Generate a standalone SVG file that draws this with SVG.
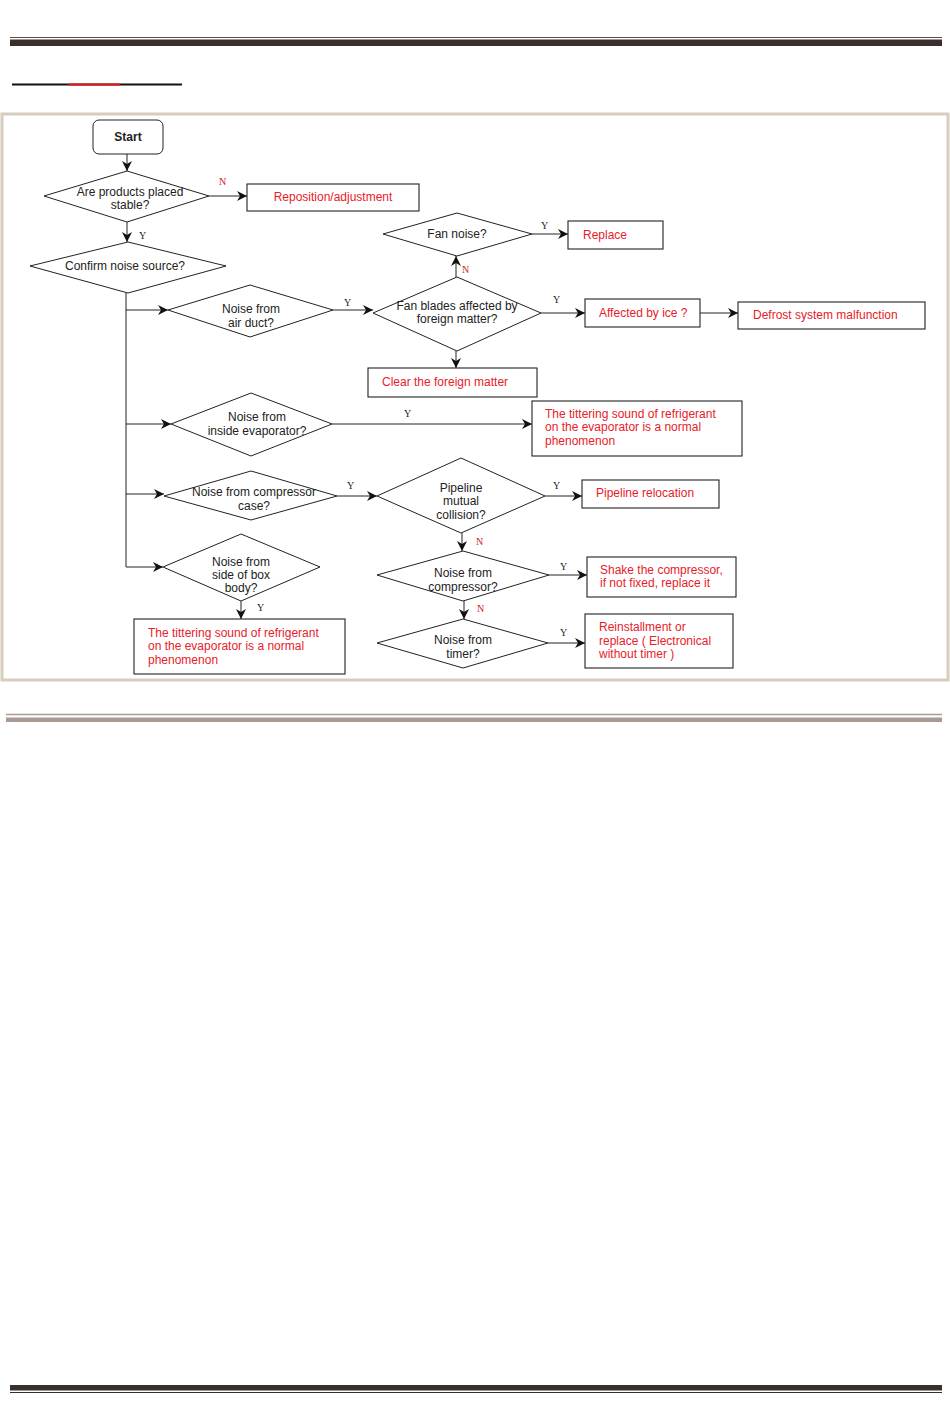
<svg xmlns="http://www.w3.org/2000/svg" width="950" height="1419" viewBox="0 0 950 1419">
<style>
.sh{fill:#fff;stroke:#222;stroke-width:1}
.bx{fill:#fff;stroke:#222;stroke-width:1.1}
.t{font-family:"Liberation Sans",Arial,sans-serif;font-size:12px;fill:#222}
.tc{text-anchor:middle}
.r{font-family:"Liberation Sans",Arial,sans-serif;font-size:12px;fill:#e8202a}
.yl{font-family:"Liberation Serif","Times New Roman",serif;font-size:10px;fill:#222}
.nl{font-family:"Liberation Serif","Times New Roman",serif;font-size:10px;fill:#d01818}
.c{fill:none;stroke:#222;stroke-width:1;marker-end:url(#ah)}
.cl{fill:none;stroke:#222;stroke-width:1}
</style>
<defs>
<marker id="ah" viewBox="0 0 10 10" refX="10" refY="5" markerWidth="10" markerHeight="10" markerUnits="userSpaceOnUse" orient="auto">
<path d="M0,0 L10,5 L0,10 L3,5 Z" fill="#111"/>
</marker>
</defs>
<rect width="950" height="1419" fill="#fff"/>
<!-- page decorations -->
<g id="page">
<line x1="10" y1="37.5" x2="942" y2="37.5" stroke="#5a4f48" stroke-width="1"/>
<rect x="10" y="39.5" width="932" height="6.5" fill="#3a302b"/>
<line x1="12" y1="84.5" x2="182" y2="84.5" stroke="#111" stroke-width="2"/>
<line x1="68" y1="84.5" x2="120" y2="84.5" stroke="#e01818" stroke-width="2"/>
<rect x="2" y="114" width="946" height="566" fill="none" stroke="#d6cdbd" stroke-width="3"/>
<line x1="6" y1="714.5" x2="942" y2="714.5" stroke="#a89a92" stroke-width="1.5"/>
<rect x="6" y="717.5" width="936" height="4.5" fill="#a89a92"/>
<rect x="10" y="1385" width="932" height="5.5" fill="#3a302b"/>
<line x1="10" y1="1392.5" x2="942" y2="1392.5" stroke="#3a302b" stroke-width="1"/>
</g>
<!-- connectors -->
<g id="connectors">
<path class="c" d="M127,154 V171"/>
<path class="c" d="M209,196 H247"/>
<path class="c" d="M127,222 V242"/>
<path class="cl" d="M126,293 V567"/>
<path class="c" d="M126,310 H168"/>
<path class="c" d="M126,424 H171"/>
<path class="c" d="M126,494 H164"/>
<path class="c" d="M126,567 H163"/>
<path class="c" d="M333,310 H373"/>
<path class="c" d="M456,277 V256"/>
<path class="c" d="M532,234 H568"/>
<path class="c" d="M541,313 H585"/>
<path class="c" d="M700,313 H738"/>
<path class="c" d="M456,351 V368"/>
<path class="c" d="M332,424 H532"/>
<path class="c" d="M337,496 H377"/>
<path class="c" d="M545,496 H582"/>
<path class="c" d="M462,533 V551"/>
<path class="c" d="M549,575 H587"/>
<path class="c" d="M464,601 V619"/>
<path class="c" d="M548,643 H585"/>
<path class="c" d="M241,601 V619"/>
<text class="nl" x="219" y="185">N</text>
<text class="yl" x="139" y="239">Y</text>
<text class="yl" x="344" y="306">Y</text>
<text class="nl" x="462" y="273">N</text>
<text class="yl" x="541" y="229">Y</text>
<text class="yl" x="553" y="303">Y</text>
<text class="yl" x="404" y="417">Y</text>
<text class="yl" x="347" y="489">Y</text>
<text class="yl" x="553" y="489">Y</text>
<text class="nl" x="476" y="545">N</text>
<text class="yl" x="560" y="570">Y</text>
<text class="nl" x="477" y="612">N</text>
<text class="yl" x="560" y="636">Y</text>
<text class="yl" x="257" y="611">Y</text>
</g>
<!-- nodes -->
<g id="start">
<rect class="sh" x="93" y="120" width="70" height="34" rx="6"/>
<text class="t tc" x="128" y="141" font-weight="bold">Start</text>
</g>
<g id="d-stable">
<polygon class="sh" points="44,196 127,171 209,196 127,222"/>
<text class="t tc" x="130" y="196">Are products placed</text>
<text class="t tc" x="130" y="209">stable?</text>
</g>
<g id="b-reposition">
<rect class="bx" x="247" y="184" width="172" height="27"/>
<text class="r tc" x="333" y="201">Reposition/adjustment</text>
</g>
<g id="d-confirm">
<polygon class="sh" points="30,266 128,242 226,266 128,293"/>
<text class="t tc" x="125" y="270">Confirm noise source?</text>
</g>
<g id="d-airduct">
<polygon class="sh" points="168,310 250,285 333,310 250,337"/>
<text class="t tc" x="251" y="313">Noise from</text>
<text class="t tc" x="251" y="327">air duct?</text>
</g>
<g id="d-fanblades">
<polygon class="sh" points="373,313 457,277 541,313 457,351"/>
<text class="t tc" x="457" y="310">Fan blades affected by</text>
<text class="t tc" x="457" y="323">foreign matter?</text>
</g>
<g id="d-fannoise">
<polygon class="sh" points="383,234 457,213 532,234 457,256"/>
<text class="t tc" x="457" y="238">Fan noise?</text>
</g>
<g id="b-replace">
<rect class="bx" x="568" y="221" width="95" height="28"/>
<text class="r" x="583" y="239">Replace</text>
</g>
<g id="b-ice">
<rect class="bx" x="585" y="299" width="115" height="28"/>
<text class="r" x="599" y="317">Affected by ice ?</text>
</g>
<g id="b-defrost">
<rect class="bx" x="738" y="302" width="187" height="27"/>
<text class="r" x="753" y="319">Defrost system malfunction</text>
</g>
<g id="b-clear">
<rect class="bx" x="368" y="368" width="169" height="29"/>
<text class="r" x="382" y="386">Clear the foreign matter</text>
</g>
<g id="d-evap">
<polygon class="sh" points="171,424 251,393 332,424 251,456"/>
<text class="t tc" x="257" y="421">Noise from</text>
<text class="t tc" x="257" y="435">inside evaporator?</text>
</g>
<g id="b-evap">
<rect class="bx" x="532" y="401" width="210" height="55"/>
<text class="r" x="545" y="418">The tittering sound of refrigerant</text>
<text class="r" x="545" y="431">on the evaporator is a normal</text>
<text class="r" x="545" y="445">phenomenon</text>
</g>
<g id="d-compcase">
<polygon class="sh" points="164,496 251,471 337,496 251,520"/>
<text class="t tc" x="254" y="496">Noise from compressor</text>
<text class="t tc" x="254" y="510">case?</text>
</g>
<g id="d-pipeline">
<polygon class="sh" points="377,496 461,458 545,496 461,533"/>
<text class="t tc" x="461" y="492">Pipeline</text>
<text class="t tc" x="461" y="505">mutual</text>
<text class="t tc" x="461" y="519">collision?</text>
</g>
<g id="b-pipeline">
<rect class="bx" x="582" y="480" width="137" height="28"/>
<text class="r" x="596" y="497">Pipeline relocation</text>
</g>
<g id="d-compressor">
<polygon class="sh" points="377,575 463,551 549,575 463,601"/>
<text class="t tc" x="463" y="577">Noise from</text>
<text class="t tc" x="463" y="591">compressor?</text>
</g>
<g id="b-shake">
<rect class="bx" x="587" y="557" width="149" height="40"/>
<text class="r" x="600" y="574">Shake the compressor,</text>
<text class="r" x="600" y="587">if not fixed, replace it</text>
</g>
<g id="d-timer">
<polygon class="sh" points="377,643 463,619 548,643 463,668"/>
<text class="t tc" x="463" y="644">Noise from</text>
<text class="t tc" x="463" y="658">timer?</text>
</g>
<g id="b-reinstall">
<rect class="bx" x="585" y="614" width="148" height="54"/>
<text class="r" x="599" y="631">Reinstallment or</text>
<text class="r" x="599" y="645">replace ( Electronical</text>
<text class="r" x="599" y="658">without timer )</text>
</g>
<g id="d-side">
<polygon class="sh" points="163,567 241,534 320,567 241,601"/>
<text class="t tc" x="241" y="566">Noise from</text>
<text class="t tc" x="241" y="579">side of box</text>
<text class="t tc" x="241" y="592">body?</text>
</g>
<g id="b-side">
<rect class="bx" x="134" y="619" width="211" height="55"/>
<text class="r" x="148" y="637">The tittering sound of refrigerant</text>
<text class="r" x="148" y="650">on the evaporator is a normal</text>
<text class="r" x="148" y="664">phenomenon</text>
</g>
</svg>
